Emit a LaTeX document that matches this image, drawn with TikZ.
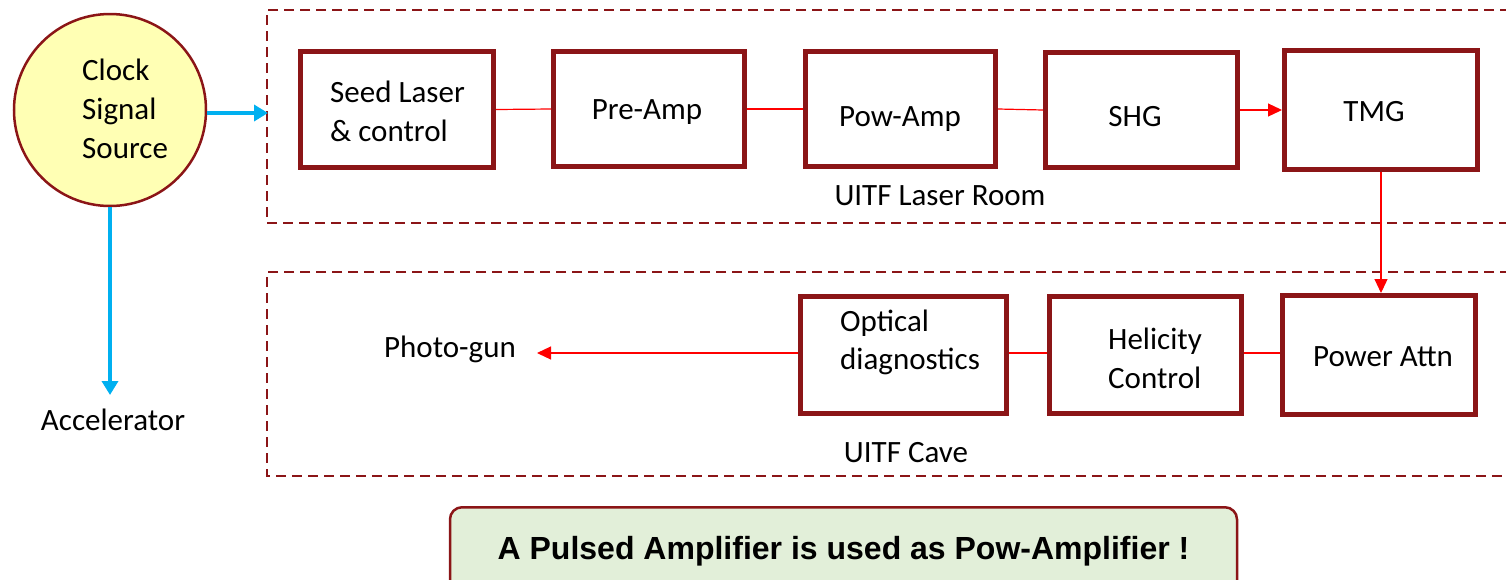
\documentclass[tikz,border=0pt]{standalone}
\usepackage{fontspec}
\setmainfont{Carlito}
\newfontfamily\arialfont{Liberation Sans}
\usetikzlibrary{arrows.meta}
\definecolor{dred}{RGB}{139,21,23}
\definecolor{cyellow}{RGB}{255,255,180}
\definecolor{cblue}{RGB}{0,176,240}
\definecolor{cgreen}{RGB}{226,239,217}
\tikzset{
  blk/.style={draw=dred, line width=5pt, rectangle, inner sep=0pt},
  lbl/.style={anchor=base, inner sep=0pt, font=\fontsize{31}{38}\selectfont},
  lbll/.style={anchor=base west, inner sep=0pt, font=\fontsize{31}{38}\selectfont},
  zone/.style={draw=dred, line width=2pt, dash pattern=on 10pt off 6pt},
  rline/.style={draw=red, line width=1.2pt},
  rarrow/.style={rline, -{Triangle[length=14pt,width=13pt]}},
  barrow/.style={draw=cblue, line width=4pt, -{Triangle[length=14pt,width=16pt]}},
}
\begin{document}
\begin{tikzpicture}[x=1pt,y=-1pt]
\useasboundingbox (0,0) rectangle (1506,579);

% zones
\draw[zone] (1510,10) -- (267,10) -- (267,223) -- (1510,223);
\draw[zone] (1510,272) -- (267,272) -- (267,476) -- (1510,476);
\coordinate (lrin) at (268,113);

% clock
\node[circle, draw=dred, line width=2.5pt, fill=cyellow, minimum size=192pt, inner sep=0pt] (clk) at (110,110) {};
\node[lbll] (clk1) at (82,80) {Clock};
\node[lbll] (clk2) at (82,119) {Signal};
\node[lbll] (clk3) at (82,158) {Source};

% top row
\node[blk, minimum width=193pt, minimum height=116pt] (seed) at (397,109.5) {};
\node[blk, minimum width=191pt, minimum height=115pt] (pre) at (649,109) {};
\node[blk, minimum width=190pt, minimum height=115pt] (pow) at (900.5,109) {};
\node[blk, minimum width=192pt, minimum height=115pt] (shg) at (1141.5,110) {};
\node[blk, minimum width=193pt, minimum height=119pt] (tmg) at (1381,110) {};

\node[lbll] (seedt1) at (330,102) {Seed Laser};
\node[lbll] (seedt2) at (330,141) {\& control};
\node[lbl] (pret) at (647,119) {Pre-Amp};
\node[lbl] (powt) at (900,126) {Pow-Amp};
\node[lbl] (shgt) at (1135,126) {SHG};
\node[lbl] (tmgt) at (1374,121) {TMG};
\node[lbl] (lroom) at (940,205) {UITF Laser Room};

% bottom row
\node[blk, minimum width=206pt, minimum height=117pt] (opt) at (903.5,355) {};
\node[blk, minimum width=192pt, minimum height=117pt] (hel) at (1145.5,355) {};
\node[blk, minimum width=193pt, minimum height=119pt] (patt) at (1379,355) {};

\node[lbll] (optt1) at (840,331) {Optical};
\node[lbll] (optt2) at (840,369) {diagnostics};
\node[lbll] (helt1) at (1108,349) {Helicity};
\node[lbll] (helt2) at (1108,388) {Control};
\node[lbl] (pattt) at (1383,366) {Power Attn};
\node[lbl] (cave) at (906,462) {UITF Cave};
\node[lbl] (pg) at (450,357) {Photo-gun};
\coordinate (pgin) at (537,353);

\node[lbl] (acc) at (113,430) {Accelerator};
\coordinate (accin) at (110,395);

% connectors
\draw[rline] (seed.east) -- (pre.west);
\draw[rline] (pre.east) -- (pow.west);
\draw[rline] (pow.east) -- (shg.west);
\draw[rarrow] (shg.east) -- (shg.east -| tmg.west);
\draw[rarrow] (tmg.south) -- (tmg.south |- patt.north);
\draw[rline] (patt.west |- 0,353) -- (hel.east |- 0,353);
\draw[rline] (hel.west |- 0,353) -- (opt.east |- 0,353);
\draw[rarrow] (opt.west |- 0,353) -- (pgin);

\draw[barrow] (clk.east |- 0,113) -- (lrin);
\draw[barrow] (clk.south) -- (accin);

% note
\node[draw=dred, line width=2.5pt, fill=cgreen, rounded corners=12pt, minimum width=787pt, minimum height=90pt, anchor=north, inner sep=0pt] (note) at (843.5,506) {};
\node[inner sep=0pt, anchor=base, font=\arialfont\bfseries\fontsize{32}{38}\selectfont] (notet) at (843.5,559) {A Pulsed Amplifier is used as Pow-Amplifier !};
\end{tikzpicture}
\end{document}
